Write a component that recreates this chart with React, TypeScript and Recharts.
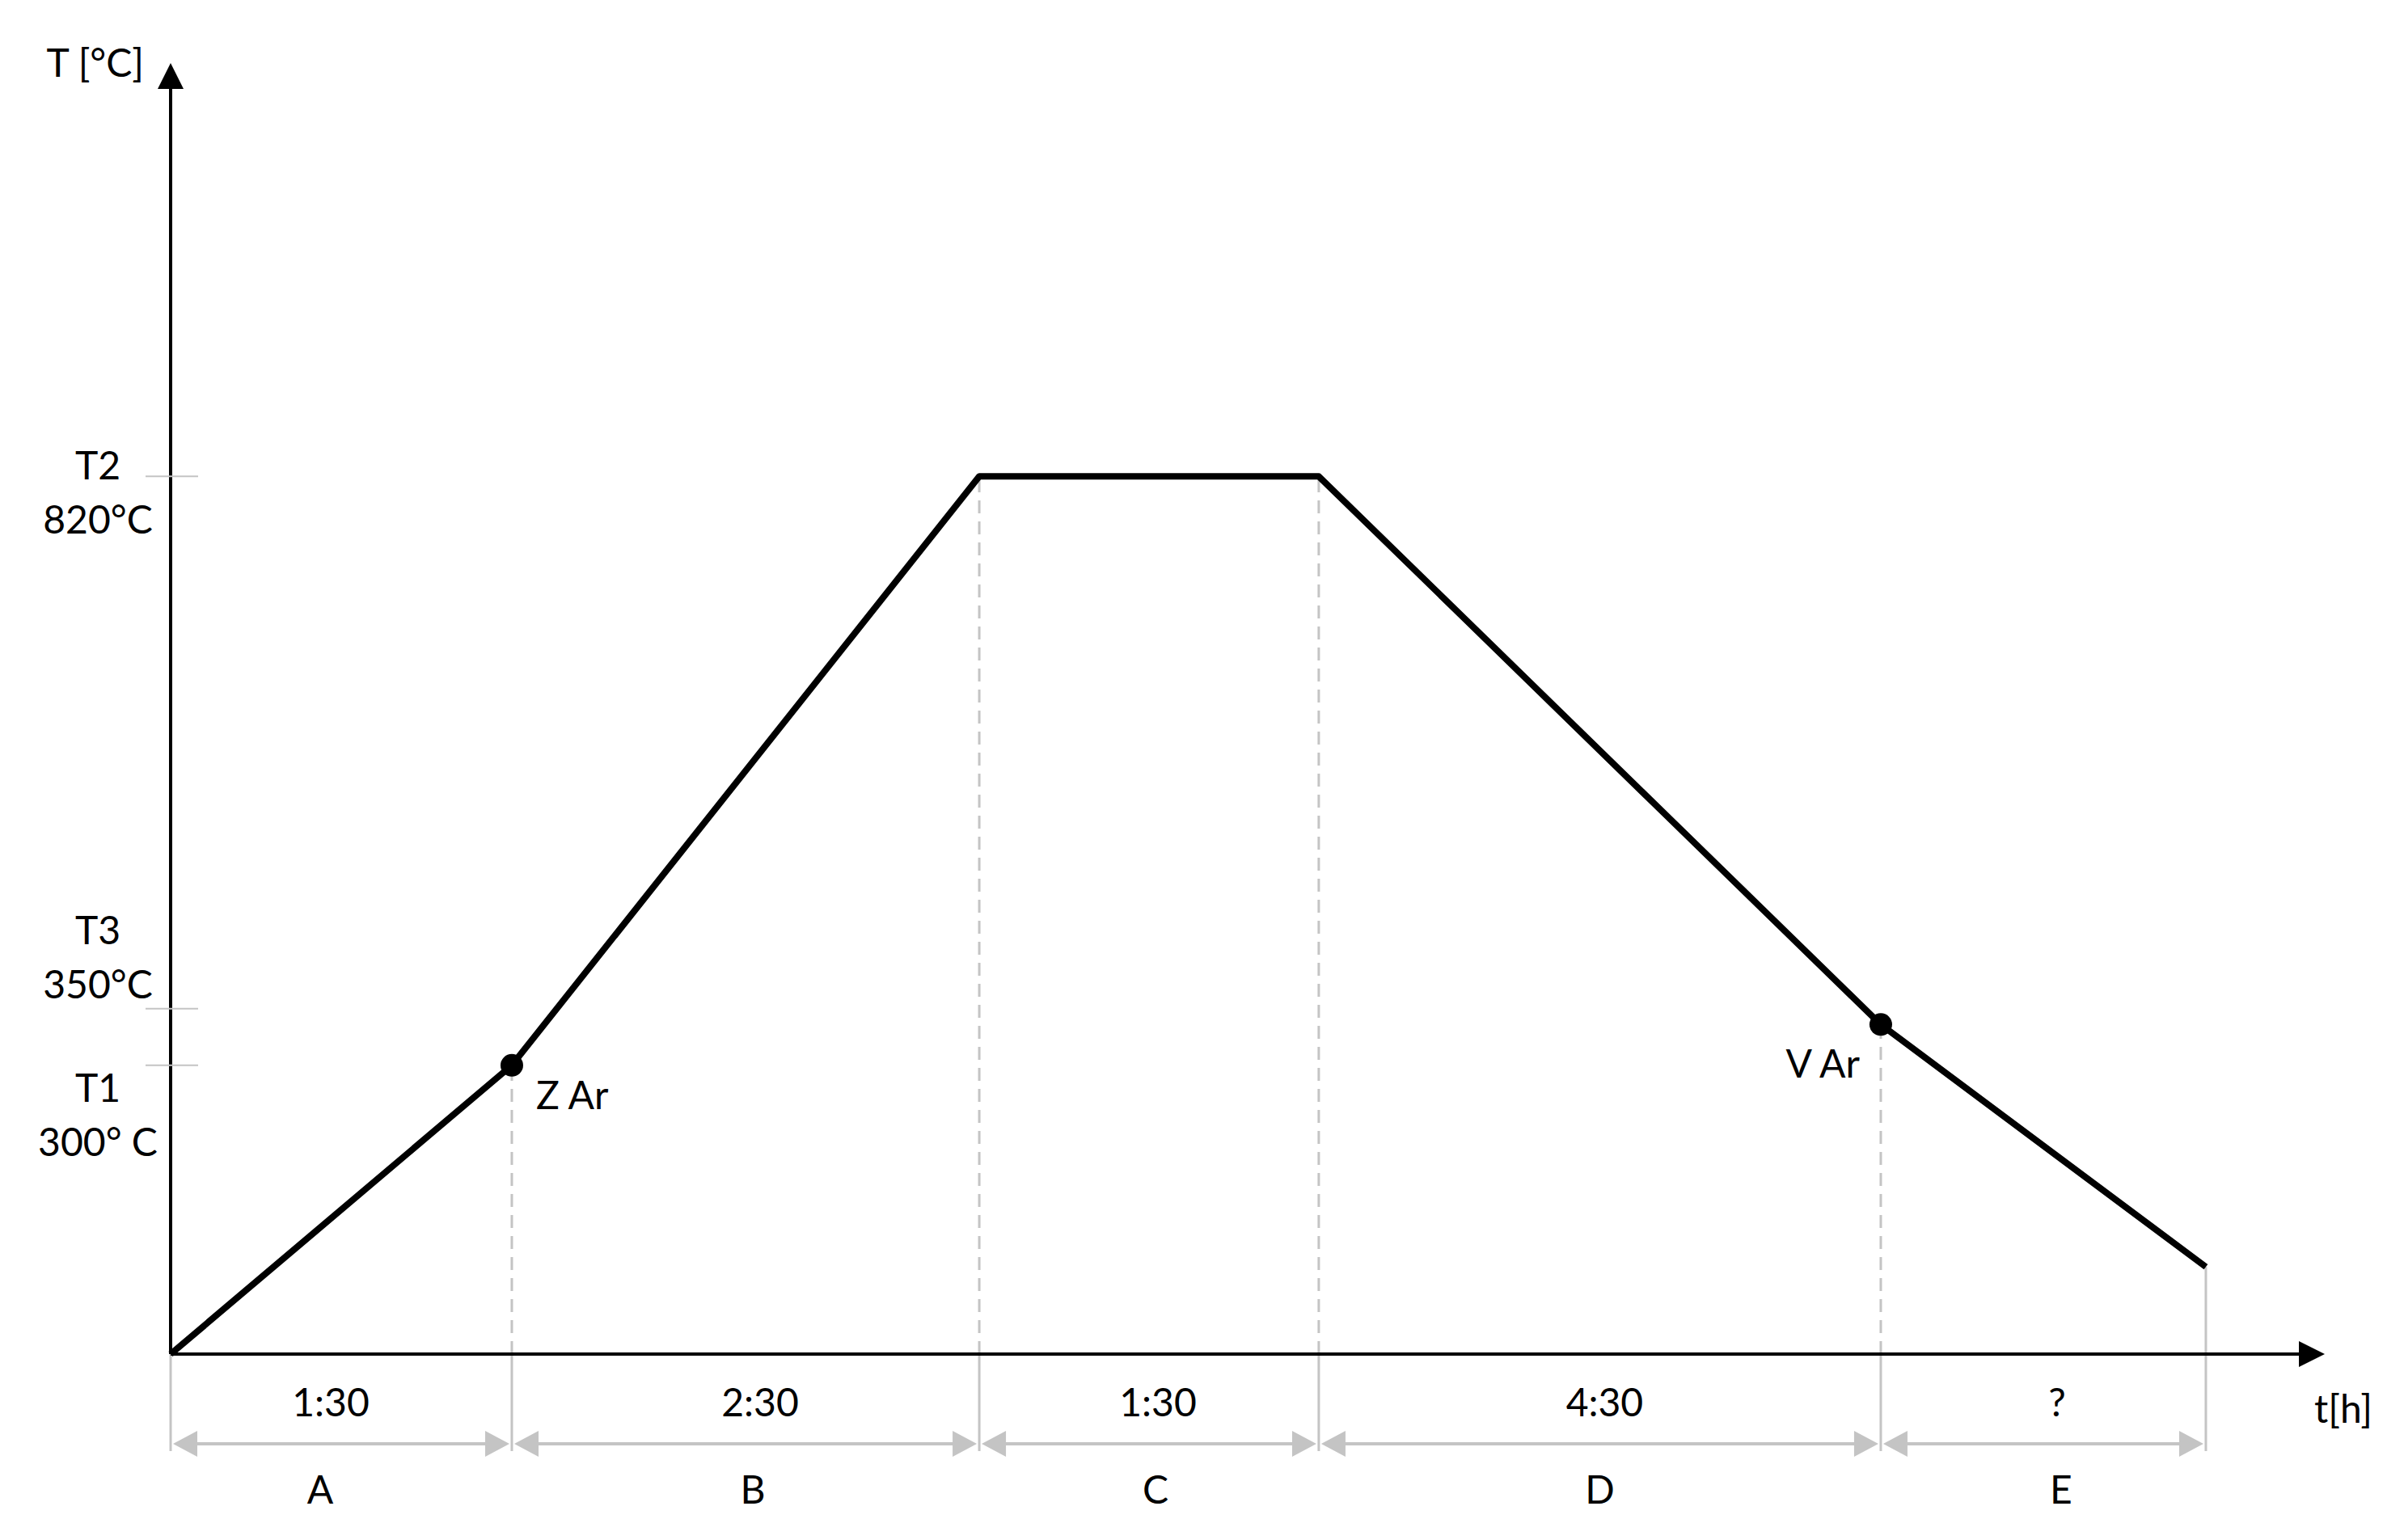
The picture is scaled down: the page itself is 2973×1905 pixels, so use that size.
import React from 'react';
import { LineChart, Line, XAxis, YAxis, ReferenceLine } from 'recharts';

// schematic t positions (axis runs 0..100, drawing is not to scale in hours)
const profilePos = [0, 15.84, 37.54, 53.3, 79.39, 94.48];
const profileTemp = [45, 300, 820, 820, 336, 122];
const pointMarkers = ['', 'Z Ar', '', '', 'V Ar', ''];
const phaseLetters = ['A', 'B', 'C', 'D', 'E'];
const phaseDurations = ['1:30', '2:30', '1:30', '4:30', '?'];
const tempTicks = [820, 350, 300];
const tempTickNames = ['T2', 'T3', 'T1'];
const tempTickValues = ['820°C', '350°C', '300° C'];
const timeAxisEnd = 100;
const tempAxisMin = 45;
const tempAxisMax = 1185;

const data = profilePos.map((pos, i) => ({ pos, temp: profileTemp[i], marker: pointMarkers[i] }));

const FONT = 'Lato, "Noto Sans", sans-serif';
const FS = 48;
const INK = '#000';
const GRAY = '#c4c4c4';

// label placement (pixels, relative to tick / point / segment middle)
const tickLabelDy: Record<number, number> = { 820: 4, 350: -80, 300: 45 };
const markerLabelLayout: Record<string, { anchor: 'start' | 'end'; dx: number; dy: number }> = {
  'Z Ar': { anchor: 'start', dx: 30, dy: 54 },
  'V Ar': { anchor: 'end', dx: -26, dy: 66 },
};
const durationDx = [-13, 18, 11, 6, 17];
const letterDx = [-26, 9, 8, 0, 22];

const txt = { fontFamily: FONT, fontSize: FS, fill: INK };

const TempTick = (props: any) => {
  const { x, y, payload } = props;
  const i = tempTicks.indexOf(payload.value);
  const dy = tickLabelDy[payload.value] ?? 0;
  const cx = x - 90;
  return (
    <g>
      <line x1={x - 31} x2={x + 34} y1={y} y2={y} stroke={GRAY} strokeWidth={2} />
      <text x={cx} y={y + dy} textAnchor="middle" {...txt}>{tempTickNames[i]}</text>
      <text x={cx} y={y + dy + 67} textAnchor="middle" {...txt}>{tempTickValues[i]}</text>
    </g>
  );
};

const TempAxisShape = (p: any) => {
  const top = Math.min(p.y1, p.y2);
  const bottom = Math.max(p.y1, p.y2);
  const x = p.x1;
  return (
    <g>
      <line x1={x} x2={x} y1={bottom} y2={top + 28} stroke="#000" strokeWidth={4} />
      <polygon points={`${x},${top} ${x - 16},${top + 32} ${x + 16},${top + 32}`} fill="#000" />
      <text x={x - 33} y={top + 17} textAnchor="end" {...txt}>T [°C]</text>
    </g>
  );
};

const TimeAxisShape = (p: any) => {
  const left = Math.min(p.x1, p.x2);
  const right = Math.max(p.x1, p.x2);
  const y = p.y1;
  return (
    <g>
      <line x1={left} x2={right - 28} y1={y} y2={y} stroke="#000" strokeWidth={4} />
      <polygon points={`${right},${y} ${right - 32},${y - 16} ${right - 32},${y + 16}`} fill="#000" />
      <text x={right - 13} y={y + 85} textAnchor="start" {...txt}>t[h]</text>
    </g>
  );
};

const PhaseShape = (p: any) => {
  const { x1, x2, y1, idx } = p;
  const ay = y1 + 111;
  const a = x1 + 3;
  const b = x2 - 3;
  const mid = (x1 + x2) / 2;
  const last = idx === phaseLetters.length - 1;
  return (
    <g>
      <line x1={x1} x2={x1} y1={y1} y2={y1 + 120} stroke={GRAY} strokeWidth={3} />
      {last && <line x1={x2} x2={x2} y1={y1} y2={y1 + 120} stroke={GRAY} strokeWidth={3} />}
      <line x1={a + 20} x2={b - 20} y1={ay} y2={ay} stroke={GRAY} strokeWidth={4} />
      <polygon points={`${a},${ay} ${a + 30},${ay - 16} ${a + 30},${ay + 16}`} fill={GRAY} />
      <polygon points={`${b},${ay} ${b - 30},${ay - 16} ${b - 30},${ay + 16}`} fill={GRAY} />
      <text x={mid + durationDx[idx]} y={y1 + 77} textAnchor="middle" {...txt}>{phaseDurations[idx]}</text>
      <text x={mid + letterDx[idx]} y={y1 + 185} textAnchor="middle" {...txt}>{phaseLetters[idx]}</text>
    </g>
  );
};

const DropShape = (p: any) => {
  const { x1, y1, y2, solid } = p;
  return (
    <line
      x1={x1}
      x2={x1}
      y1={y1}
      y2={y2}
      stroke={GRAY}
      strokeWidth={3}
      strokeDasharray={solid ? undefined : '16 10'}
    />
  );
};

const renderDot = (p: any) => {
  const { cx, cy, index, payload } = p;
  const lay = markerLabelLayout[payload.marker];
  if (!lay) return <g key={`d${index}`} />;
  return (
    <g key={`d${index}`}>
      <circle cx={cx} cy={cy} r={14} fill="#000" />
      <text x={cx + lay.dx} y={cy + lay.dy} textAnchor={lay.anchor} {...txt}>{payload.marker}</text>
    </g>
  );
};

export default function App() {
  return (
    <LineChart
      width={2950}
      height={1885}
      data={data}
      margin={{ top: 70, right: 83, left: 0, bottom: 218 }}
    >
      <XAxis dataKey="pos" type="number" domain={[0, timeAxisEnd]} hide />
      <YAxis
        type="number"
        domain={[tempAxisMin, tempAxisMax]}
        ticks={tempTicks}
        interval={0}
        width={203}
        axisLine={false}
        tickLine={false}
        tickSize={0}
        tickMargin={0}
        tick={<TempTick />}
      />
      {profilePos.slice(1).map((pos, k) => (
        <ReferenceLine
          key={`drop${k}`}
          segment={[{ x: pos, y: tempAxisMin }, { x: pos, y: profileTemp[k + 1] }]}
          shape={(p: any) => <DropShape {...p} solid={k + 1 === profilePos.length - 1} />}
        />
      ))}
      {phaseLetters.map((l, i) => (
        <ReferenceLine
          key={`ph${l}`}
          segment={[{ x: profilePos[i], y: tempAxisMin }, { x: profilePos[i + 1], y: tempAxisMin }]}
          shape={(p: any) => <PhaseShape {...p} idx={i} />}
        />
      ))}
      <ReferenceLine
        segment={[{ x: 0, y: tempAxisMin }, { x: timeAxisEnd, y: tempAxisMin }]}
        shape={(p: any) => <TimeAxisShape {...p} />}
      />
      <ReferenceLine
        segment={[{ x: 0, y: tempAxisMin }, { x: 0, y: tempAxisMax }]}
        shape={(p: any) => <TempAxisShape {...p} />}
      />
      <Line
        type="linear"
        dataKey="temp"
        stroke="#000"
        strokeWidth={8}
        strokeLinejoin="round"
        dot={renderDot}
        activeDot={false}
        isAnimationActive={false}
      />
    </LineChart>
  );
}
